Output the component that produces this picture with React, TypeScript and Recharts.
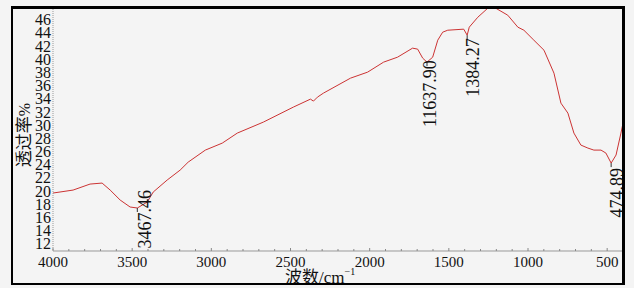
import React from 'react';
import { LineChart, Line, XAxis, YAxis, ReferenceDot, Label } from 'recharts';

// IR spectrum
const wavenumbers = [
  4000, 3873, 3766, 3690, 3639, 3576, 3513, 3467.46, 3405, 3367, 3279, 3197, 3146,
  3038, 2931, 2836, 2671, 2482, 2374, 2355, 2330, 2292, 2121, 2013, 1912, 1824,
  1729, 1697, 1665, 1637.9, 1602, 1570, 1539, 1507, 1406, 1384.27, 1371, 1317,
  1254, 1204, 1128, 1064, 1026, 963, 899, 836, 792, 748, 710, 666, 622, 584, 539,
  508, 474.89, 444, 413, 400,
];
const transmittance = [
  19.79, 20.24, 21.15, 21.3, 20.24, 18.73, 17.67, 17.52, 18.42, 19.94, 21.76, 23.27, 24.48,
  26.3, 27.36, 28.88, 30.55, 32.82, 34.03, 33.73, 34.33, 34.94, 37.21, 38.12, 39.64, 40.39,
  41.76, 41.61, 40.24, 39.64, 40.39, 42.97, 44.18, 44.48, 44.64, 43.73, 44.94, 46.45,
  47.82, 47.82, 46.76, 44.94, 44.48, 42.97, 41.45, 37.97, 33.42, 31.91, 28.88, 27.06, 26.61, 26.3, 26.3,
  25.85, 24.33, 25.55, 28.88, 30.39,
];

const xMajorTicks = [4000, 3500, 3000, 2500, 2000, 1500, 1000, 500];
const yTicks = [12, 14, 16, 18, 20, 22, 24, 26, 28, 30, 32, 34, 36, 38, 40, 42, 44, 46];

const peakWaves = [3467.46, 1637.9, 1384.27, 474.89];
const peakValues = [17.52, 39.64, 43.73, 24.33];
const peakLabels = ['3467.46', '11637.90', '1384.27', '474.89'];

// label placement relative to the peak point: [to baseline, to top of text]
const peakOffsets = [
  [14, -18],
  [9, -2],
  [12, 3],
  [12, 5],
];

const data = wavenumbers.map((w, i) => ({ w, t: transmittance[i] }));

const xTicks: number[] = [];
for (let v = 4000; v >= 400; v -= 100) xTicks.push(v);

const serif = '"Liberation Serif", "Times New Roman", serif';
const cjk = '"Noto Sans CJK SC", sans-serif';

const XTick = ({ x, y, payload }: any) => {
  const v = payload.value;
  const major = xMajorTicks.includes(v);
  return (
    <g>
      <line x1={x} x2={x} y1={y} y2={y - (major ? 3 : 2)} stroke="#888" />
      {major && (
        <text x={x} y={y + 16} textAnchor="middle" fontSize={15} fontFamily={serif} fill="#111">
          {v}
        </text>
      )}
    </g>
  );
};

const YTick = ({ x, y, payload }: any) => (
  <text x={x - 2} y={y + 5} textAnchor="end" fontSize={16} fontFamily={serif} fill="#111">
    {payload.value}
  </text>
);

const XTitle = ({ viewBox }: any) => {
  const x = viewBox.x + viewBox.width / 2 - 53;
  const y = viewBox.y + 32;
  return (
    <text x={x} y={y} fill="#111">
      <tspan fontFamily={cjk} fontSize={17}>波数</tspan>
      <tspan fontFamily={serif} fontSize={17}>/cm</tspan>
      <tspan fontFamily={serif} fontSize={10} dy={-8}>−1</tspan>
    </text>
  );
};

const YTitle = ({ viewBox }: any) => {
  const x = viewBox.x + 17;
  const y = viewBox.y + viewBox.height / 2 + 6;
  return (
    <text x={x} y={y} transform={`rotate(-90 ${x} ${y})`} textAnchor="middle" fill="#111">
      <tspan fontFamily={cjk} fontSize={17}>透过率</tspan>
      <tspan fontFamily={serif} fontSize={16}>%</tspan>
    </text>
  );
};

const PeakMark = ({ cx, cy, i }: any) => {
  const [dx, dy] = peakOffsets[i];
  const tx = cx + dx;
  const ty = cy + dy;
  return (
    <g>
      <line x1={cx} x2={cx} y1={cy} y2={cy + 4} stroke="#333" />
      <text
        x={tx}
        y={ty}
        transform={`rotate(-90 ${tx} ${ty})`}
        textAnchor="end"
        fontSize={18}
        fontFamily={serif}
        fill="#111"
      >
        {peakLabels[i]}
      </text>
    </g>
  );
};

export default function App() {
  return (
    <div style={{ position: 'absolute', left: 0, top: 0, width: 634, height: 288, background: '#f4f4f4' }}>
      <LineChart width={634} height={288} data={data} margin={{ top: 7, right: 11, left: 13, bottom: 7 }}>
        <XAxis
          dataKey="w"
          type="number"
          domain={[400, 4000]}
          reversed
          ticks={xTicks}
          interval={0}
          tick={<XTick />}
          tickLine={false}
          tickSize={0}
          tickMargin={0}
          height={30}
          axisLine={{ stroke: '#999' }}
        >
          <Label content={<XTitle />} />
        </XAxis>
        <YAxis
          type="number"
          domain={[11, 48]}
          ticks={yTicks}
          interval={0}
          tick={<YTick />}
          tickLine={false}
          tickSize={0}
          tickMargin={0}
          width={40}
          axisLine={{ stroke: '#999', strokeDasharray: '1 1' }}
        >
          <Label content={<YTitle />} />
        </YAxis>
        <Line
          type="linear"
          dataKey="t"
          stroke="#cc3333"
          strokeWidth={1}
          dot={false}
          isAnimationActive={false}
        />
        {peakWaves.map((w, i) => (
          <ReferenceDot
            key={peakLabels[i]}
            x={w}
            y={peakValues[i]}
            r={0}
            shape={(p: any) => <PeakMark {...p} i={i} />}
          />
        ))}
      </LineChart>
      <div
        style={{
          position: 'absolute',
          left: 11,
          top: 6,
          width: 614,
          height: 279,
          boxSizing: 'border-box',
          borderStyle: 'solid',
          borderColor: '#000',
          borderWidth: '3px 3px 2px 2px',
          pointerEvents: 'none',
        }}
      />
    </div>
  );
}
